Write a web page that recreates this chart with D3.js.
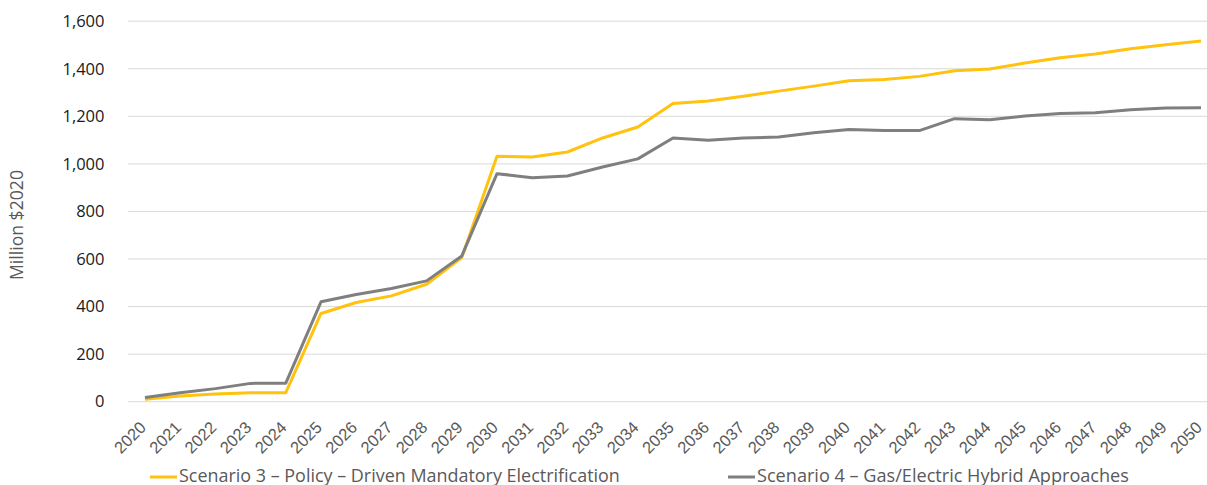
<!DOCTYPE html>
<html>
<head>
<meta charset="utf-8">
<script src="https://cdn.jsdelivr.net/npm/d3@7/dist/d3.min.js"></script>
<style>
  html, body { margin: 0; padding: 0; background: #fff; }
  svg { display: block; font-family: "Open Sans", Inter, sans-serif; }
</style>
</head>
<body>
<svg id="chart" width="1207" height="485"></svg>
<script>
const years = ["2020","2021","2022","2023","2024","2025","2026","2027","2028","2029","2030",
  "2031","2032","2033","2034","2035","2036","2037","2038","2039","2040",
  "2041","2042","2043","2044","2045","2046","2047","2048","2049","2050"];
const scenario3 = [10, 24, 32, 38, 38, 371, 417, 445, 494, 606, 1032,
  1029, 1050, 1109, 1155, 1254, 1264, 1284, 1306, 1327, 1350,
  1355, 1368, 1392, 1399, 1424, 1446, 1462, 1484, 1501, 1517];
const scenario4 = [18, 38, 55, 77, 78, 420, 451, 476, 508, 613, 959,
  942, 949, 987, 1021, 1109, 1099, 1109, 1113, 1131, 1145,
  1140, 1140, 1190, 1186, 1201, 1212, 1215, 1228, 1235, 1236];
const yTicks = [0, 200, 400, 600, 800, 1000, 1200, 1400, 1600];
const seriesNames = ["Scenario 3 \u2013 Policy \u2013 Driven Mandatory Electrification",
  "Scenario 4 \u2013 Gas/Electric Hybrid Approaches"];
const seriesColors = ["#FFC20E", "#7F7F7F"];

const svg = d3.select("#chart");
const x = d3.scalePoint().domain(years).range([145, 1201]);
const y = d3.scaleLinear().domain([0, 1600]).range([401.7, 21.2]);

// fit a text element to a target width by adjusting font-size
function fitWidth(sel, target) {
  const node = sel.node();
  const fs = parseFloat(sel.attr("font-size"));
  const w = node.getComputedTextLength();
  if (w > 0) sel.attr("font-size", (fs * target / w).toFixed(2));
}

// gridlines
svg.append("g").selectAll("line").data(yTicks).join("line")
  .attr("x1", 128).attr("x2", 1218)
  .attr("y1", d => y(d)).attr("y2", d => y(d))
  .attr("stroke", "#d9d9d9").attr("stroke-width", 1);

// y axis
const yAxis = svg.append("g").attr("transform", "translate(110,0)")
  .call(d3.axisLeft(y).tickValues(yTicks).tickSize(0).tickPadding(5.5).tickFormat(d3.format(",")));
yAxis.select(".domain").remove();
yAxis.selectAll("text").attr("font-size", 16.5).attr("fill", "#1a1a1a")
  .attr("font-family", "\"Open Sans\", sans-serif");

// x axis
const xAxis = svg.append("g").attr("transform", "translate(0,402)")
  .call(d3.axisBottom(x).tickSize(0).tickPadding(0));
xAxis.select(".domain").remove();
xAxis.selectAll("text")
  .attr("font-size", 16.5).attr("fill", "#595959")
  .attr("text-anchor", "end")
  .attr("dy", "0")
  .attr("transform", "translate(1.5,26.5) rotate(-45)");

// y title
const yTitle = svg.append("text")
  .attr("transform", "translate(22.5,225) rotate(-90)")
  .attr("text-anchor", "middle")
  .attr("font-size", 16).attr("fill", "#595959")
  .text("Million $2020");
fitWidth(yTitle, 110);

// lines
const line = d3.line().x((d, i) => x(years[i])).y(d => y(d));
[scenario3, scenario4].forEach((s, k) => {
  svg.append("path").datum(s)
    .attr("fill", "none")
    .attr("stroke", seriesColors[k])
    .attr("stroke-width", 3)
    .attr("stroke-linejoin", "round")
    .attr("d", line);
});

// legend
const legendX = [150, 728];
const legendW = [441, 372];
seriesNames.forEach((name, k) => {
  const g = svg.append("g").attr("transform", `translate(${legendX[k]},477)`);
  g.append("line").attr("x1", 0).attr("x2", 27).attr("y1", 0).attr("y2", 0)
    .attr("stroke", seriesColors[k]).attr("stroke-width", 3);
  const t = g.append("text").attr("x", 29).attr("y", 4.5)
    .attr("font-size", 16.5).attr("fill", "#595959")
    .text(name);
  fitWidth(t, legendW[k]);
});
</script>
</body>
</html>
